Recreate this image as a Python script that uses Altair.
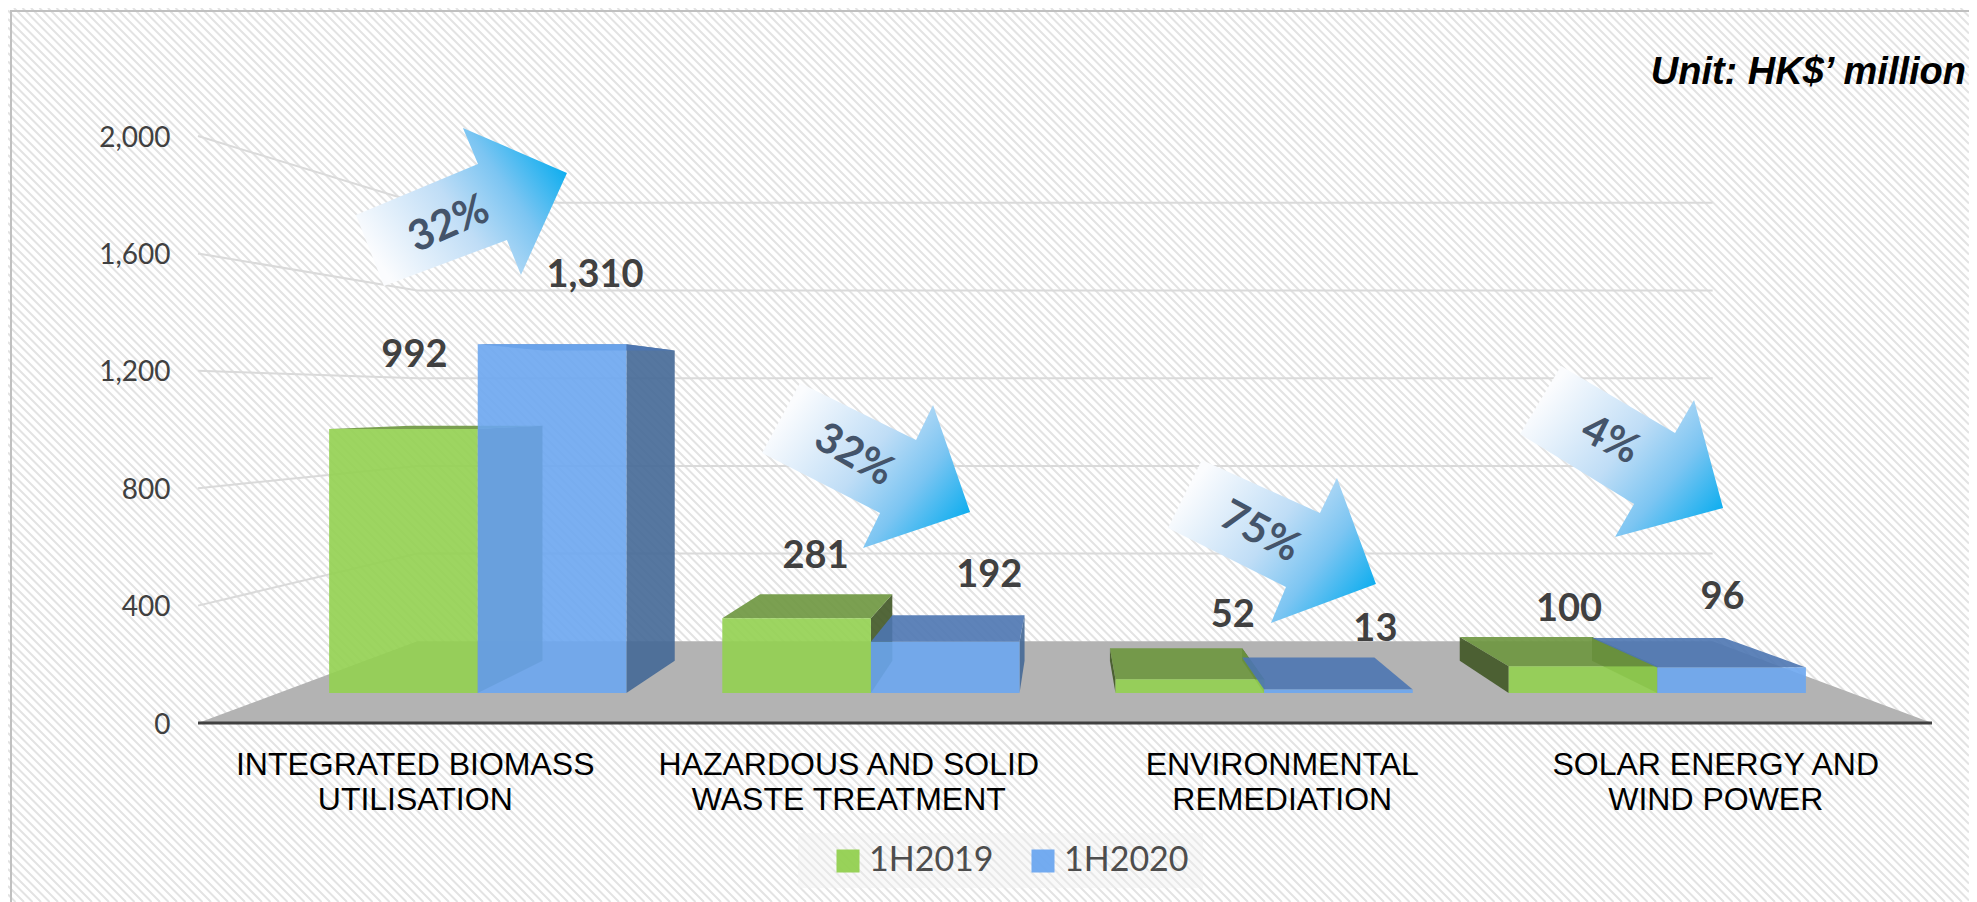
import json
import altair as alt
import pandas as pd

# ---------- data ----------
categories = ["INTEGRATED BIOMASS|UTILISATION", "HAZARDOUS AND SOLID|WASTE TREATMENT",
              "ENVIRONMENTAL|REMEDIATION", "SOLAR ENERGY AND|WIND POWER"]
series = ["1H2019", "1H2020"]
values_2019 = [992, 281, 52, 100]
values_2020 = [1310, 192, 13, 96]
changes = ["32%", "32%", "75%", "4%"]
y_ticks = [0, 400, 800, 1200, 1600, 2000]
unit_text = "Unit: HK$\u2019 million"

# ---------- layout (pixels and 3D scene) ----------
TOTAL_W, TOTAL_H = 1961, 894
PLOT_W, PLOT_H = 1734, 587
PAD_L, PAD_T = 190, 128
PAD_R, PAD_B = TOTAL_W - PAD_L - PLOT_W, TOTAL_H - PAD_T - PLOT_H
OX, OY = PAD_L + 8, PAD_T + 8   # plot origin on the page
VP_X, VP_V = 2.0, 1100.0        # vanishing point, in scale units
S_FRONT, S_BACK, S_WALL = 0.907, 0.807, 0.747
BAR_W = 0.378
BAR_SHIFT = 0.0064
PX_PER_X = PLOT_W / 4
PX_PER_V = PLOT_H / 2000

FONT = "Lato"
DARK = "#404040"
GREEN, BLUE = "#92D050", "#6CA6EF"
TOP = {series[0]: "#6D963E", series[1]: "#4C75B1"}
SIDE = {series[0]: "#405625", series[1]: "#446896"}

label_dx = [[11, 43], [19, 44], [43, 37], [-14, -9]]
label_dy = [[-73, -68], [-61, -66], [-63, -60], [-56, -69]]
# arrow outlines on the page: tail, tail, shoulder, head, tip, head, shoulder
arrows = [
    [(384, 286), (356, 215), (478, 164), (463, 128), (567, 173), (521, 275), (507, 240)],
    [(800, 383), (762, 453), (880, 513), (863, 548), (970, 512), (933, 405), (916, 440)],
    [(1202, 460), (1168, 528), (1286, 587), (1271, 623), (1376, 584), (1337, 478), (1320, 513)],
    [(1561, 366), (1520, 434), (1634, 504), (1615, 537), (1723, 508), (1694, 400), (1675, 433)],
]
pct_pos = [(449, 224, 336), (854, 455, 30), (1260, 532, 28), (1610, 440, 27)]


def proj(X, V, s):
    return VP_X + s * (X - VP_X), VP_V + s * (V - VP_V)


x_scale = alt.Scale(domain=[0, 4], nice=False, zero=False)
y_scale = alt.Scale(domain=[0, 2000], nice=False, zero=False)
cat_json = json.dumps([c.split("|") for c in categories])
x_axis = alt.Axis(
    title=None, values=[0.5, 1.5, 2.5, 3.5], labelExpr=f"{cat_json}[floor(datum.value)]",
    orient="bottom", domain=False, ticks=False, grid=False, zindex=1,
    labelFont="Liberation Sans", labelFontSize=32, labelColor="#000000", labelAngle=0,
    labelLineHeight=35, labelPadding=26, labelOverlap=False, labelBound=False, labelFlush=False,
    labelBaseline="top", labelAlign="center", labelLimit=500)
y_axis = alt.Axis(
    title=None, values=y_ticks, format=",.0f", orient="left", domain=False, ticks=False, grid=False, zindex=1,
    labelFont=FONT, labelFontSize=28, labelColor=DARK, labelPadding=28, labelOverlap=False,
    labelBound=False, labelFlush=False, labelLimit=200, labelOffset=2)
NOX = alt.X("x:Q", scale=x_scale, axis=x_axis)
NOY = alt.Y("y:Q", scale=y_scale, axis=y_axis)


def to_x(page_px):
    return (page_px - OX) / PX_PER_X


def to_v(page_py):
    return (OY + PLOT_H - page_py) / PX_PER_V


layers = []
one = pd.DataFrame({"a": [0]})

# ---------- hatch background and frame ----------
hatch = []
c = -TOTAL_W
while c < TOTAL_H:
    x0 = max(0, -c)
    x1 = min(TOTAL_W, TOTAL_H - c)
    hatch.append(f"M{x0},{x0 + c}L{x1},{x1 + c}")
    c += 8.5
layers.append(
    alt.Chart(one).mark_point(
        shape="".join(hatch), size=4, filled=False, stroke="#E3E3E3", strokeWidth=2, opacity=1
    ).encode(x=alt.value(-PAD_L), y=alt.value(-PAD_T))
)
layers.append(
    alt.Chart(one).mark_rect(color="#F0F0F0", opacity=0.4).encode(
        x=alt.value(798 - OX), x2=alt.value(1203 - OX), y=alt.value(833 - OY), y2=alt.value(888 - OY))
)
for xa, xb, ya, yb in [(10, 12, 10, 902), (10, 1977, 10, 12)]:
    layers.append(
        alt.Chart(one).mark_rect(color="#C0C0C0").encode(
            x=alt.value(xa - OX), x2=alt.value(xb - OX), y=alt.value(ya - OY), y2=alt.value(yb - OY))
    )

# ---------- walls, floor, axes ----------
grid_rows = []
for t in y_ticks:
    if t == 0:
        continue
    a = proj(0, t, 1.0)
    b = proj(0, t, S_WALL)
    c2 = proj(4, t, S_WALL)
    for p in (a, b, c2):
        grid_rows.append({"x": p[0], "y": p[1], "t": t})

layers.append(alt.Chart(pd.DataFrame(grid_rows)).mark_line(color="#DADADA", strokeWidth=2).encode(
    x=NOX, y=NOY, detail="t:N"))

f1, f2 = proj(0, 0, 1.0), proj(4, 0, 1.0)
b1, b2 = proj(0, 0, S_WALL), proj(4, 0, S_WALL)
floor = pd.DataFrame([{"x": f1[0], "x2": f2[0], "y": f1[1]}, {"x": b1[0], "x2": b2[0], "y": b1[1]}])
layers.append(alt.Chart(floor).mark_area(orient="horizontal", color="#B3B3B3", opacity=1).encode(
    y=NOY, x=NOX, x2="x2:Q"))
baseline = pd.DataFrame([{"x": 0, "y": 0}, {"x": 4, "y": 0}])
layers.append(alt.Chart(baseline).mark_line(color=DARK, strokeWidth=3).encode(x=NOX, y=NOY))

# ---------- 3D bars ----------
color_enc = alt.Color("series:N", scale=alt.Scale(domain=series, range=[GREEN, BLUE]), legend=alt.Legend(
    title=None, orient="none", legendX=633, legendY=708, direction="horizontal", symbolType="square",
    symbolSize=530, symbolStrokeWidth=0, labelFont=FONT, labelFontSize=34, labelColor="#4D4D4D",
    labelOffset=4, columnPadding=32, padding=0, symbolOpacity=0.95))

for j, (name, vals) in enumerate(zip(series, [values_2019, values_2020])):
    side_rows, top_rows, front_rows = [], [], []
    for i, v in enumerate(vals):
        X0 = i + 0.5 + (j - 1) * BAR_W + BAR_SHIFT
        X1 = X0 + BAR_W
        sides = []
        if j == 0 and X0 > VP_X:
            sides.append(X0)       # outer left face, seen on the right of the vanishing point
        if j == 0 or X1 < VP_X:
            sides.append(X1)       # right face
        for k, X in enumerate(sides):
            for s in (S_FRONT, S_BACK):
                xp, yt = proj(X, v, s)
                _, yb = proj(X, 0, s)
                side_rows.append({"x": xp, "y": yt, "y2": yb, "face": f"{i}-{k}"})
        for s in (S_FRONT, S_BACK):
            xa, yt = proj(X0, v, s)
            xb, _ = proj(X1, v, s)
            top_rows.append({"x": xa, "x2": xb, "y": yt, "face": str(i)})
        xa, yt = proj(X0, v, S_FRONT)
        xb, yb = proj(X1, 0, S_FRONT)
        front_rows.append({"x": xa, "x2": xb, "y": yt, "y2": yb, "series": name})
    layers.append(alt.Chart(pd.DataFrame(side_rows)).mark_area(color=SIDE[name], opacity=0.9).encode(
        x=NOX, y=NOY, y2="y2:Q", detail="face:N"))
    layers.append(alt.Chart(pd.DataFrame(top_rows)).mark_area(orient="horizontal", color=TOP[name], opacity=0.9).encode(
        y=NOY, x=NOX, x2="x2:Q", detail="face:N"))
    layers.append(alt.Chart(pd.DataFrame(front_rows)).mark_rect(opacity=0.9).encode(
        x=NOX, x2="x2:Q", y=NOY, y2="y2:Q", color=color_enc))

# ---------- data labels ----------
lab_rows = []
for j, vals in enumerate([values_2019, values_2020]):
    for i, v in enumerate(vals):
        X0 = i + 0.5 + (j - 1) * BAR_W + BAR_SHIFT
        xp, yp = proj(X0 + BAR_W / 2, v, S_FRONT)
        lab_rows.append({"x": xp + label_dx[i][j] / PX_PER_X, "y": yp - label_dy[i][j] / PX_PER_V, "v": v})
layers.append(alt.Chart(pd.DataFrame(lab_rows)).mark_text(
    font=FONT, fontWeight="bold", fontSize=38, color=DARK, align="center", baseline="middle"
).encode(x=NOX, y=NOY, text=alt.Text("v:Q", format=",")))

# ---------- change arrows ----------
for i, pts in enumerate(arrows):
    ax, av = i + 0.5, 1000
    apx = OX + ax * PX_PER_X
    apy = OY + PLOT_H - av * PX_PER_V
    path = "M" + "L".join(f"{px - apx:.1f},{py - apy:.1f}" for px, py in pts) + "Z"
    xs = [p[0] for p in pts]
    ys = [p[1] for p in pts]
    tail = ((pts[0][0] + pts[1][0]) / 2, (pts[0][1] + pts[1][1]) / 2)
    tip = pts[4]
    ux = lambda px: (px - min(xs)) / (max(xs) - min(xs))
    uy = lambda py: (py - min(ys)) / (max(ys) - min(ys))
    grad = alt.LinearGradient(
        gradient="linear", x1=ux(tail[0]), y1=uy(tail[1]), x2=ux(tip[0]), y2=uy(tip[1]),
        stops=[alt.GradientStop(color="#FBFCFE", offset=0),
               alt.GradientStop(color="#BFDDF6", offset=0.45),
               alt.GradientStop(color="#7CC5F2", offset=0.72),
               alt.GradientStop(color="#0FAEEF", offset=1)])
    layers.append(alt.Chart(pd.DataFrame({"x": [ax], "y": [av]})).mark_point(
        shape=path, size=4, filled=True, fill=grad, opacity=1, strokeWidth=0
    ).encode(x=NOX, y=NOY))
    px, py, ang = pct_pos[i]
    layers.append(alt.Chart(pd.DataFrame({"x": [to_x(px)], "y": [to_v(py)], "t": [changes[i]]})).mark_text(
        font=FONT, fontWeight="bold", fontSize=42, color="#44546A", angle=ang, align="center", baseline="middle"
    ).encode(x=NOX, y=NOY, text="t:N"))

# ---------- unit note ----------
layers.append(alt.Chart(pd.DataFrame({"t": [unit_text]})).mark_text(
    font="Liberation Sans", fontWeight="bold", fontStyle="italic", fontSize=38, color="#000000",
    align="right", baseline="middle"
).encode(x=alt.value(1966 - OX), y=alt.value(73 - OY), text="t:N"))

chart = alt.layer(*layers).properties(
    width=PLOT_W, height=PLOT_H, background="#FFFFFF",
    padding={"left": PAD_L, "top": PAD_T, "right": PAD_R, "bottom": PAD_B},
    autosize=alt.AutoSizeParams(type="none"),
).configure_view(stroke=None)

chart.save("out.html", embed_options={"renderer": "svg", "actions": False})
